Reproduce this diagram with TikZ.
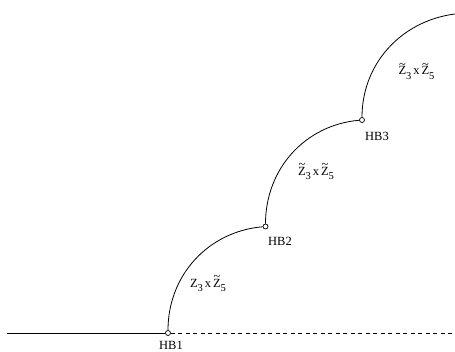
\documentclass[tikz,border=0pt]{standalone}
\usepackage{fontspec}
\setmainfont{Liberation Serif}
\newcommand\tZ{\leavevmode\hbox{\ooalign{Z\cr\hidewidth\raisebox{6.5pt}{\textasciitilde}\hidewidth\cr}}}
\newcommand\zsub[1]{\kern-0.3pt\raisebox{-4.5pt}{\fontsize{10.5}{12}\selectfont #1}}
\begin{document}
\begin{tikzpicture}[x=1pt,y=1pt,
  hb/.style={circle,draw,fill=white,inner sep=0pt,minimum size=5pt,line width=0.7pt},
  lbl/.style={font=\fontsize{12.5}{15}\selectfont,inner sep=0pt},
  curve/.style={line width=0.8pt},
  base/.style={line width=0.8pt},
  dashline/.style={line width=0.8pt,dash pattern=on 4pt off 3.5pt}]
\useasboundingbox (0,0) rectangle (455,351);
\clip (0,0) rectangle (455,351);
\node[hb] (HB1) at (168,18) {};
\node[hb] (HB2) at (265.5,124.5) {};
\node[hb] (HB3) at (362,231) {};
\coordinate (L) at (7,18);
\coordinate (R) at (455,18);
\coordinate (E) at (459.5,337.5);
\draw[base] (L) -- (HB1);
\draw[dashline] (HB1) -- (R);
\draw[curve] (HB1) to[out=90,in=185] (HB2);
\draw[curve] (HB2) to[out=90,in=185] (HB3);
\draw[curve] (HB3) to[out=90,in=185] (E);
\node[lbl,anchor=center] (t1) at (171,6) {HB1};
\node[lbl,anchor=center] (t2) at (280,110) {HB2};
\node[lbl,anchor=center] (t3) at (377,215) {HB3};
\node[lbl,anchor=base west] (z1) at (190,64) {Z\zsub{3}\,x\,\tZ\zsub{5}};
\node[lbl,anchor=base west] (z2) at (298,175.5) {\tZ\zsub{3}\,x\,\tZ\zsub{5}};
\node[lbl,anchor=base west] (z3) at (398.5,276) {\tZ\zsub{3}\,x\,\tZ\zsub{5}};
\end{tikzpicture}
\end{document}
